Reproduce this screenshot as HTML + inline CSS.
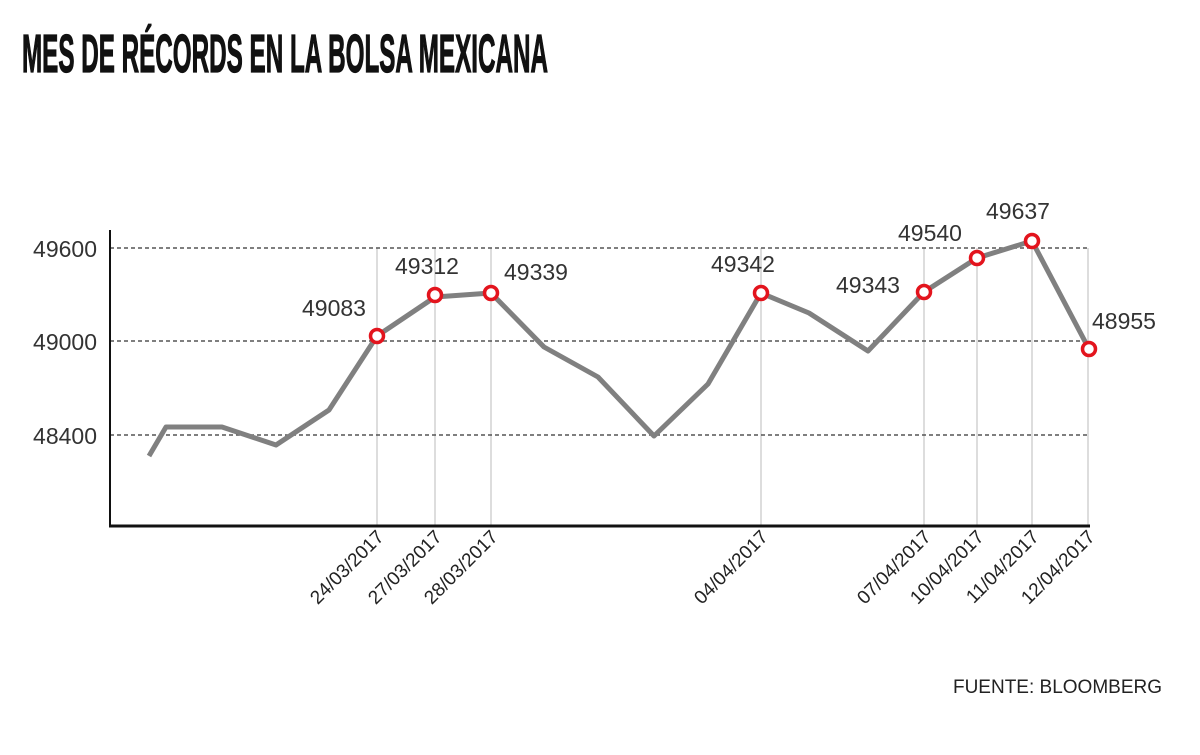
<!DOCTYPE html>
<html><head><meta charset="utf-8"><style>
body{margin:0;background:#fff;width:1200px;height:750px;overflow:hidden}
</style></head><body>
<svg width="1200" height="750" xmlns="http://www.w3.org/2000/svg" font-family="Liberation Sans, sans-serif">
<text x="22" y="72" font-size="54" font-weight="bold" fill="#111" stroke="#111" stroke-width="1.2" textLength="526" lengthAdjust="spacingAndGlyphs">MES DE RÉCORDS EN LA BOLSA MEXICANA</text>
<g stroke="#ddd" stroke-width="2">
<line x1="377" y1="248" x2="377" y2="526"/><line x1="435" y1="248" x2="435" y2="526"/>
<line x1="491" y1="248" x2="491" y2="526"/><line x1="761" y1="248" x2="761" y2="526"/>
<line x1="924" y1="248" x2="924" y2="526"/><line x1="977" y1="248" x2="977" y2="526"/>
<line x1="1032" y1="248" x2="1032" y2="526"/><line x1="1088" y1="248" x2="1088" y2="526"/>
</g>
<g stroke="#555" stroke-width="1.5" stroke-dasharray="4,3">
<line x1="110" y1="248" x2="1088" y2="248"/><line x1="110" y1="341" x2="1088" y2="341"/><line x1="110" y1="435" x2="1088" y2="435"/>
</g>
<line x1="110" y1="230" x2="110" y2="527" stroke="#111" stroke-width="2"/>
<line x1="109" y1="526" x2="1090" y2="526" stroke="#111" stroke-width="3"/>
<g font-size="23" fill="#333" text-anchor="end">
<text x="97" y="257">49600</text><text x="97" y="350">49000</text><text x="97" y="444">48400</text>
</g>
<polyline fill="none" stroke="#808080" stroke-width="5" stroke-linejoin="round" points="149,456 166,427 222,427 276,445 329,410 377,336 435,297 491,293 544,347 598,377 654,436 708,384 761,293 809,313 868,351 924,292 977,258 1032,241 1089,349"/>
<g fill="#fff" stroke="#e3141d" stroke-width="3.5">
<circle cx="377" cy="336" r="6.5"/><circle cx="435" cy="295" r="6.5"/><circle cx="491" cy="293" r="6.5"/><circle cx="761" cy="293" r="6.5"/><circle cx="924" cy="292" r="6.5"/><circle cx="977" cy="258" r="6.5"/><circle cx="1032" cy="241" r="6.5"/><circle cx="1089" cy="349" r="6.5"/>
</g>
<g font-size="23" fill="#333">
<text x="302" y="316">49083</text><text x="395" y="274">49312</text><text x="504" y="280">49339</text>
<text x="711" y="272">49342</text><text x="836" y="293">49343</text><text x="898" y="241">49540</text>
<text x="986" y="219">49637</text><text x="1092" y="329">48955</text>
</g>
<g font-size="19" fill="#222" text-anchor="end">
<text transform="translate(385,538) rotate(-45)">24/03/2017</text>
<text transform="translate(443,538) rotate(-45)">27/03/2017</text>
<text transform="translate(499,538) rotate(-45)">28/03/2017</text>
<text transform="translate(769,538) rotate(-45)">04/04/2017</text>
<text transform="translate(932,538) rotate(-45)">07/04/2017</text>
<text transform="translate(985,538) rotate(-45)">10/04/2017</text>
<text transform="translate(1040,538) rotate(-45)">11/04/2017</text>
<text transform="translate(1096,538) rotate(-45)">12/04/2017</text>
</g>
<text x="1162" y="693" font-size="19" fill="#222" text-anchor="end">FUENTE: BLOOMBERG</text>
</svg>
</body></html>
